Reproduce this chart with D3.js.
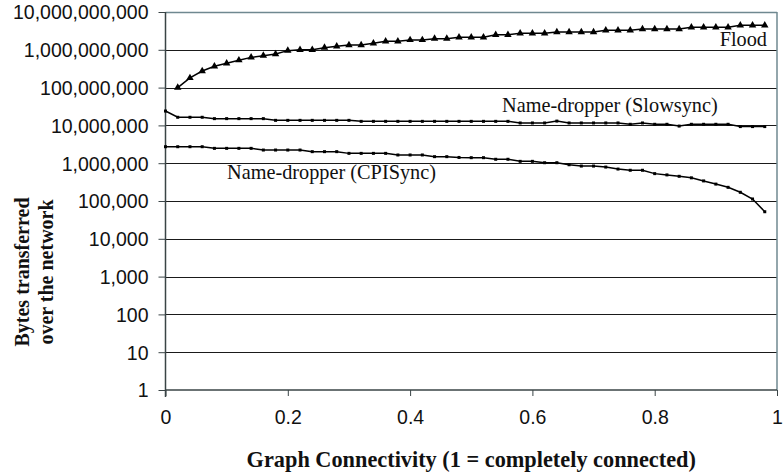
<!DOCTYPE html>
<html>
<head>
<meta charset="utf-8">
<script src="https://cdn.jsdelivr.net/npm/d3@7"></script>
<style>
  html, body { margin: 0; padding: 0; background: #fff; }
  svg { display: block; }
</style>
</head>
<body>
<svg id="chart" width="783" height="472"></svg>
<script>
// Graph connectivity (x) for each measured network
const connectivityAll = [0, 0.02, 0.04, 0.06, 0.08, 0.10, 0.12, 0.14, 0.16, 0.18,
  0.20, 0.22, 0.24, 0.26, 0.28, 0.30, 0.32, 0.34, 0.36, 0.38,
  0.40, 0.42, 0.44, 0.46, 0.48, 0.50, 0.52, 0.54, 0.56, 0.58,
  0.60, 0.62, 0.64, 0.66, 0.68, 0.70, 0.72, 0.74, 0.76, 0.78,
  0.80, 0.82, 0.84, 0.86, 0.88, 0.90, 0.92, 0.94, 0.96, 0.98];
const connectivityFlood = [0.02, 0.04, 0.06, 0.08, 0.10, 0.12, 0.14, 0.16, 0.18,
  0.20, 0.22, 0.24, 0.26, 0.28, 0.30, 0.32, 0.34, 0.36, 0.38,
  0.40, 0.42, 0.44, 0.46, 0.48, 0.50, 0.52, 0.54, 0.56, 0.58,
  0.60, 0.62, 0.64, 0.66, 0.68, 0.70, 0.72, 0.74, 0.76, 0.78,
  0.80, 0.82, 0.84, 0.86, 0.88, 0.90, 0.92, 0.94, 0.96, 0.98];

// Bytes transferred over the network
const floodBytes = [1.0e8, 1.8e8, 2.75e8, 3.66e8, 4.4e8, 5.3e8, 6.3e8, 7.0e8, 7.7e8,
  9.5e8, 1.0e9, 1.0e9, 1.14e9, 1.24e9, 1.34e9, 1.34e9, 1.48e9, 1.68e9, 1.68e9,
  1.82e9, 1.82e9, 1.97e9, 1.97e9, 2.15e9, 2.15e9, 2.15e9, 2.5e9, 2.5e9, 2.73e9,
  2.73e9, 2.73e9, 2.96e9, 2.96e9, 2.96e9, 2.96e9, 3.27e9, 3.27e9, 3.27e9, 3.55e9,
  3.55e9, 3.55e9, 3.55e9, 3.93e9, 3.93e9, 3.93e9, 3.93e9, 4.44e9, 4.44e9, 4.44e9];
const slowsyncBytes = [2.4e7, 1.64e7, 1.64e7, 1.64e7, 1.51e7, 1.51e7, 1.51e7, 1.51e7, 1.51e7, 1.36e7,
  1.36e7, 1.36e7, 1.36e7, 1.36e7, 1.36e7, 1.36e7, 1.28e7, 1.28e7, 1.28e7, 1.28e7,
  1.28e7, 1.28e7, 1.28e7, 1.28e7, 1.28e7, 1.28e7, 1.28e7, 1.28e7, 1.28e7, 1.16e7,
  1.16e7, 1.16e7, 1.3e7, 1.16e7, 1.16e7, 1.16e7, 1.16e7, 1.16e7, 1.07e7, 1.16e7,
  1.07e7, 1.07e7, 9.6e6, 1.07e7, 1.07e7, 1.07e7, 1.07e7, 9.3e6, 9.3e6, 9.3e6];
const cpisyncBytes = [2.73e6, 2.73e6, 2.73e6, 2.73e6, 2.47e6, 2.47e6, 2.47e6, 2.47e6, 2.23e6, 2.23e6,
  2.23e6, 2.23e6, 2.02e6, 2.02e6, 2.02e6, 1.82e6, 1.82e6, 1.82e6, 1.82e6, 1.65e6,
  1.65e6, 1.65e6, 1.49e6, 1.49e6, 1.42e6, 1.40e6, 1.40e6, 1.27e6, 1.27e6, 1.12e6,
  1.12e6, 1.03e6, 1.03e6, 9.1e5, 8.4e5, 8.4e5, 7.9e5, 7.0e5, 6.5e5, 6.5e5,
  5.3e5, 4.9e5, 4.5e5, 4.1e5, 3.4e5, 2.8e5, 2.3e5, 1.7e5, 1.13e5, 5.2e4];

// Axis ticks
const yTickValues = [1, 10, 100, 1e3, 1e4, 1e5, 1e6, 1e7, 1e8, 1e9, 1e10];
const xTickValues = [0, 0.2, 0.4, 0.6, 0.8, 1];
const xTickLabels = ["0", "0.2", "0.4", "0.6", "0.8", "1"];

const svg = d3.select("#chart");
const plotLeft = 165.5, plotRight = 777, plotTop = 12, plotBottom = 390;

const x = d3.scaleLinear().domain([0, 1]).range([plotLeft, plotRight]);
const y = d3.scaleLog().domain([1, 1e10]).range([plotBottom, plotTop]);

const sans = "'Liberation Sans', Arial, sans-serif";
const serif = "'Liberation Serif', 'Times New Roman', serif";

// Horizontal gridlines at each decade
svg.append("g").selectAll("line")
  .data(yTickValues.filter(v => v > 1 && v < 1e10))
  .join("line")
  .attr("x1", plotLeft).attr("x2", plotRight)
  .attr("y1", d => Math.round(y(d)) + 0.5).attr("y2", d => Math.round(y(d)) + 0.5)
  .attr("stroke", "#1a1a1a").attr("stroke-width", 1);

// Plot frame: top and right in slate grey
svg.append("line")
  .attr("x1", plotLeft).attr("x2", plotRight)
  .attr("y1", Math.round(y(1e10)) + 0.5).attr("y2", Math.round(y(1e10)) + 0.5)
  .attr("stroke", "#6f8890").attr("stroke-width", 1.5);
svg.append("line")
  .attr("x1", plotRight).attr("x2", plotRight)
  .attr("y1", plotTop).attr("y2", plotBottom)
  .attr("stroke", "#6f8890").attr("stroke-width", 1.5);

// Y axis
const yAxis = d3.axisLeft(y)
  .tickValues(yTickValues)
  .tickFormat(d3.format(","))
  .tickSize(7)
  .tickPadding(10);
const gy = svg.append("g")
  .attr("transform", `translate(${plotLeft},0)`)
  .call(yAxis);
gy.select(".domain").attr("stroke", "#3a4446").attr("stroke-width", 1.5)
  .attr("d", `M0,${plotTop}V${plotBottom + 7}`);
gy.selectAll(".tick line").attr("stroke", "#3a4446");
gy.selectAll(".tick text")
  .attr("font-family", sans).attr("font-size", "19.5px").attr("fill", "#111")
  .attr("dy", "0.35em");

// X axis
const xAxis = d3.axisBottom(x)
  .tickValues(xTickValues)
  .tickFormat((d, i) => xTickLabels[i])
  .tickSize(6)
  .tickPadding(14);
const gx = svg.append("g")
  .attr("transform", `translate(0,${plotBottom})`)
  .call(xAxis);
gx.select(".domain").attr("stroke", "#3a4446").attr("stroke-width", 1.5)
  .attr("d", `M${plotLeft},0H${plotRight}`);
gx.selectAll(".tick line").attr("stroke", "#3a4446");
gx.selectAll(".tick text")
  .attr("font-family", sans).attr("font-size", "19.5px").attr("fill", "#111");

// Series lines and markers
const line = d3.line().x(d => x(d[0])).y(d => y(d[1]));

const series = [
  { xs: connectivityFlood, ys: floodBytes, symbol: d3.symbolTriangle, size: 24 },
  { xs: connectivityAll, ys: slowsyncBytes, symbol: d3.symbolSquare, size: 9 },
  { xs: connectivityAll, ys: cpisyncBytes, symbol: d3.symbolSquare, size: 9 }
];

series.forEach(s => {
  const pts = s.xs.map((v, i) => [v, s.ys[i]]);
  svg.append("path")
    .attr("d", line(pts))
    .attr("fill", "none")
    .attr("stroke", "#000")
    .attr("stroke-width", 1.5);
  svg.append("g").selectAll("path")
    .data(pts)
    .join("path")
    .attr("transform", d => `translate(${x(d[0])},${y(d[1])})`)
    .attr("d", d3.symbol().type(s.symbol).size(s.size))
    .attr("fill", "#000");
});

// Series labels
const labelStyle = sel => sel.attr("font-family", serif).attr("font-size", "20.3px").attr("fill", "#111");
svg.append("text").call(labelStyle)
  .attr("x", 767).attr("y", 46).attr("text-anchor", "end").text("Flood");
svg.append("text").call(labelStyle)
  .attr("x", 502).attr("y", 112).text("Name-dropper (Slowsync)");
svg.append("text").call(labelStyle)
  .attr("x", 227).attr("y", 179).text("Name-dropper (CPISync)");

// Axis titles
svg.append("text")
  .attr("x", (plotLeft + plotRight) / 2).attr("y", 467)
  .attr("text-anchor", "middle")
  .attr("font-family", serif).attr("font-weight", "bold").attr("font-size", "22.3px")
  .attr("fill", "#111")
  .text("Graph Connectivity (1 = completely connected)");

const yTitle = svg.append("text")
  .attr("transform", "translate(0,272) rotate(-90)")
  .attr("text-anchor", "middle")
  .attr("font-family", serif).attr("font-weight", "bold").attr("font-size", "20px")
  .attr("fill", "#111");
yTitle.append("tspan").attr("x", 0).attr("y", 29).text("Bytes transferred");
yTitle.append("tspan").attr("x", 0).attr("y", 53).text("over the network");
</script>
</body>
</html>
